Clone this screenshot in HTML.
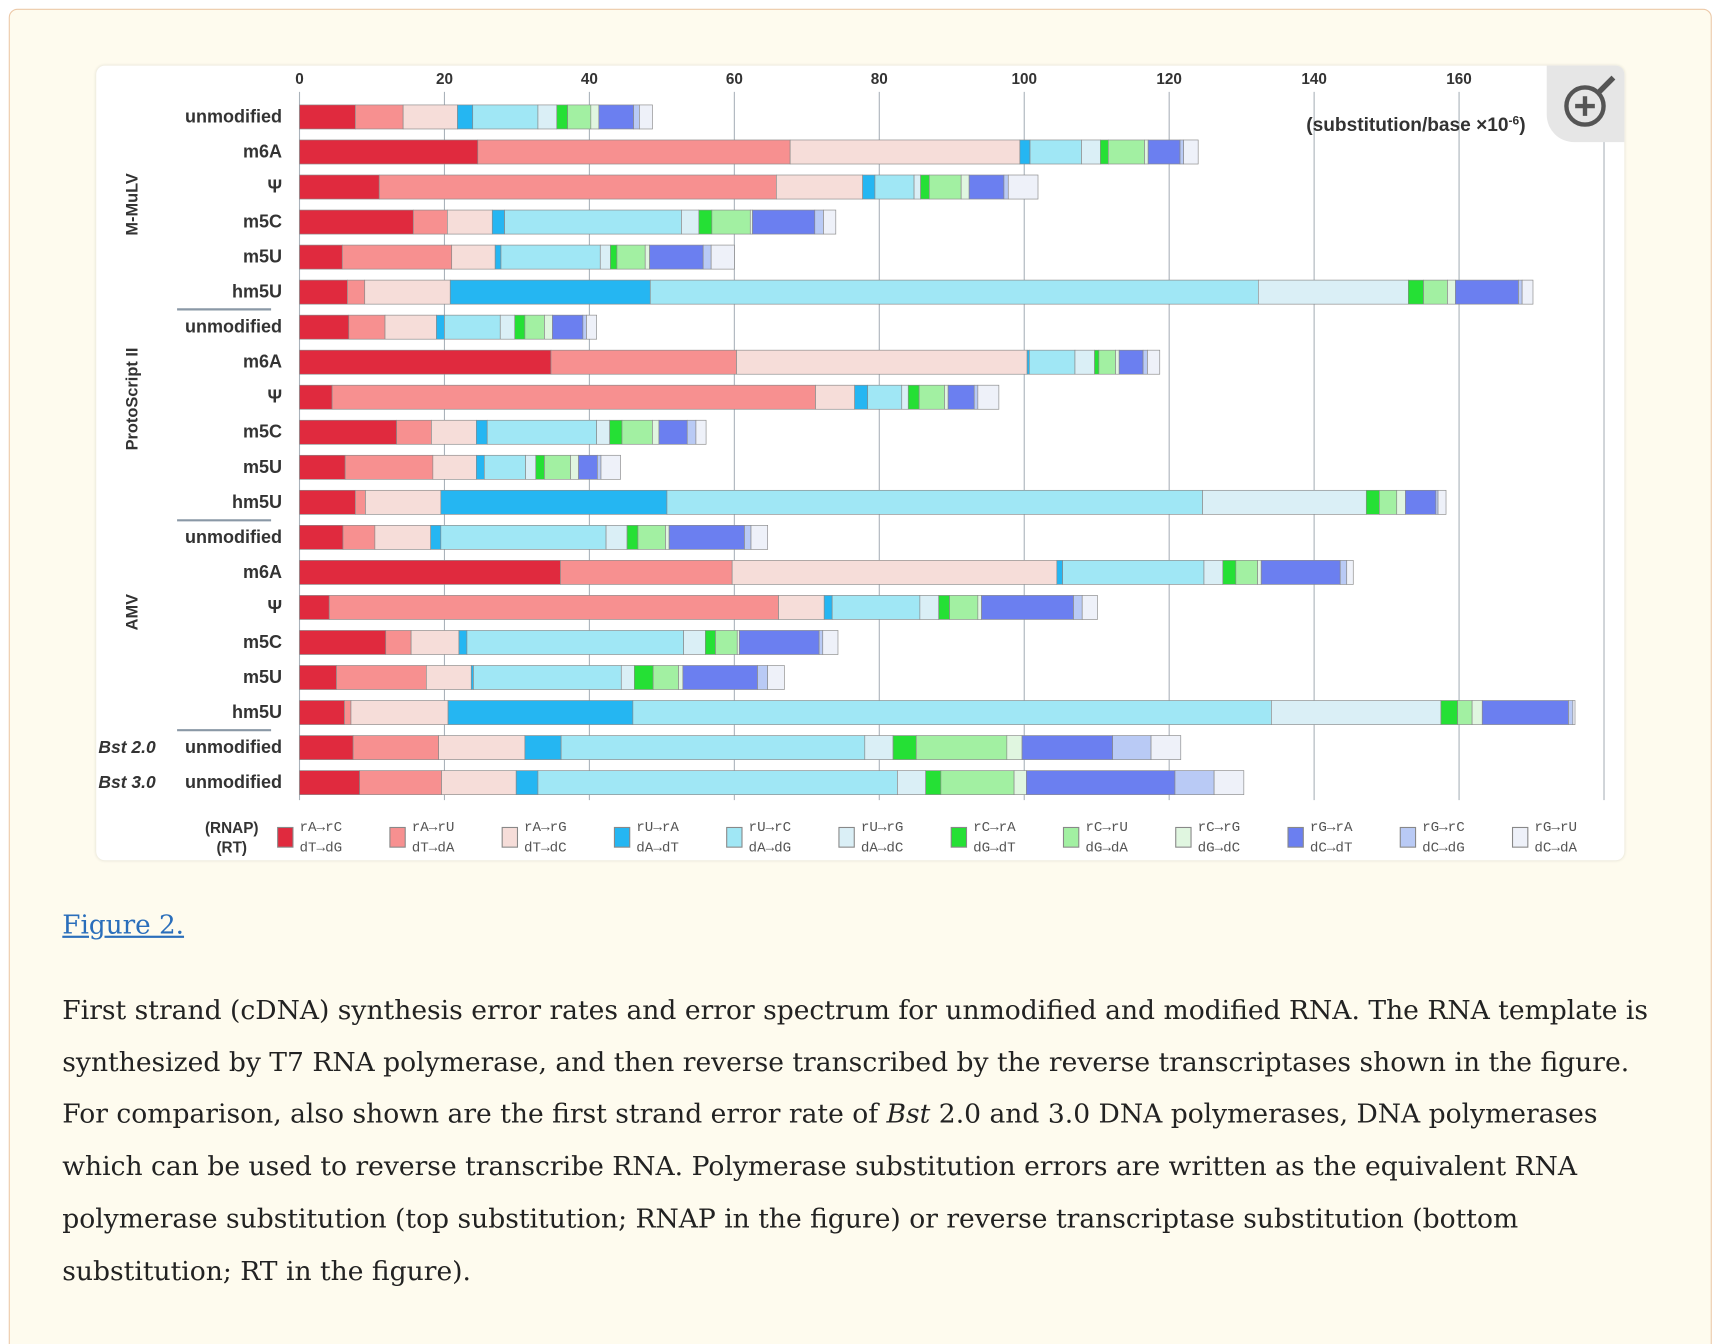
<!DOCTYPE html>
<html><head><meta charset="utf-8">
<style>
html,body{margin:0;padding:0;background:#fff;}
#page{width:1714px;height:1344px;overflow:hidden;position:relative;background:#fff;}
#inner{position:absolute;left:0;top:0;width:1568px;height:1230px;transform:scale(1.0931);transform-origin:0 0;}
#card{position:absolute;left:8px;top:8px;width:1556px;height:1240px;border:1px solid #ecc9a8;border-radius:8px;background:#fefbee;}
#panel{position:absolute;left:88px;top:60px;width:1398px;height:727px;background:#fff;border-radius:8px;box-shadow:0 0 3px rgba(0,0,0,0.12);}
#chart{position:absolute;left:0;top:0;}
#figlink{position:absolute;left:57px;top:832px;font-family:"DejaVu Serif","Liberation Serif",serif;font-size:24px;color:#2a6ebb;text-decoration:underline;}
#caption{position:absolute;left:57px;top:900px;font-family:"DejaVu Serif","Liberation Serif",serif;font-size:24.3px;line-height:47.7px;color:#222;white-space:nowrap;}
</style></head>
<body>
<div id="page">
<div id="inner">
<div id="card"></div>
<div id="panel"></div>
<svg id="chart" width="1568" height="800" font-family="Liberation Sans, sans-serif"></svg>
<a id="figlink">Figure 2.</a>
<div id="caption">First strand (cDNA) synthesis error rates and error spectrum for unmodified and modified RNA. The RNA template is<br>synthesized by T7 RNA polymerase, and then reverse transcribed by the reverse transcriptases shown in the figure.<br>For comparison, also shown are the first strand error rate of <i>Bst</i> 2.0 and 3.0 DNA polymerases, DNA polymerases<br>which can be used to reverse transcribe RNA. Polymerase substitution errors are written as the equivalent RNA<br>polymerase substitution (top substitution; RNAP in the figure) or reverse transcriptase substitution (bottom<br>substitution; RT in the figure).</div>
</div>
</div>
<script>
const rowLabels = ["unmodified","m6A","Ψ","m5C","m5U","hm5U","unmodified","m6A","Ψ","m5C","m5U","hm5U","unmodified","m6A","Ψ","m5C","m5U","hm5U","unmodified","unmodified"];
const mmlvUnmod = [7.7,6.6,7.5,2.1,9.0,2.6,1.5,3.2,1.1,4.8,0.8,1.8];
const mmlvM6A = [24.6,43.1,31.7,1.4,7.1,2.6,1.1,5.0,0.5,4.4,0.5,2.0];
const mmlvPsi = [11.0,54.8,11.9,1.7,5.4,0.9,1.2,4.4,1.1,4.8,0.6,4.1];
const mmlvM5C = [15.7,4.7,6.2,1.7,24.4,2.4,1.8,5.3,0.3,8.6,1.2,1.7];
const mmlvM5U = [5.9,15.1,6.0,0.8,13.7,1.4,0.9,3.9,0.6,7.4,1.1,3.2];
const mmlvHm5U = [6.6,2.4,11.8,27.6,83.9,20.7,2.1,3.3,1.1,8.7,0.5,1.5];
const psUnmod = [6.8,5.0,7.1,1.1,7.7,2.0,1.4,2.7,1.1,4.2,0.5,1.4];
const psM6A = [34.7,25.6,40.1,0.3,6.3,2.7,0.6,2.3,0.5,3.3,0.6,1.7];
const psPsi = [4.5,66.7,5.4,1.8,4.7,0.9,1.5,3.5,0.5,3.6,0.5,2.9];
const psM5C = [13.4,4.8,6.2,1.5,15.1,1.8,1.7,4.2,0.9,3.9,1.2,1.4];
const psM5U = [6.3,12.1,6.0,1.1,5.7,1.4,1.2,3.6,1.1,2.6,0.5,2.7];
const psHm5U = [7.7,1.4,10.4,31.2,73.9,22.6,1.8,2.4,1.2,4.2,0.3,1.1];
const amvUnmod = [6.0,4.4,7.7,1.4,22.8,2.9,1.5,3.8,0.5,10.4,0.9,2.3];
const amvM6A = [36.0,23.7,44.8,0.8,19.5,2.6,1.8,3.0,0.5,10.9,0.9,0.9];
const amvPsi = [4.1,62.0,6.3,1.1,12.1,2.6,1.5,3.9,0.5,12.7,1.2,2.1];
const amvM5C = [11.9,3.5,6.6,1.1,29.9,3.0,1.4,3.0,0.3,11.0,0.5,2.1];
const amvM5U = [5.1,12.4,6.2,0.3,20.4,1.8,2.6,3.5,0.6,10.3,1.4,2.3];
const amvHm5U = [6.2,0.9,13.4,25.5,88.1,23.4,2.3,2.0,1.4,11.9,0.6,0.3];
const bst20 = [7.4,11.8,11.9,5.0,41.9,3.9,3.2,12.5,2.1,12.5,5.3,4.1];
const bst30 = [8.3,11.3,10.3,3.0,49.6,3.9,2.1,10.1,1.7,20.5,5.4,4.1];
const rows = [mmlvUnmod,mmlvM6A,mmlvPsi,mmlvM5C,mmlvM5U,mmlvHm5U,psUnmod,psM6A,psPsi,psM5C,psM5U,psHm5U,amvUnmod,amvM6A,amvPsi,amvM5C,amvM5U,amvHm5U,bst20,bst30];
const ticks = [0,20,40,60,80,100,120,140,160,180];
const legendTop = ["rA→rC","rA→rU","rA→rG","rU→rA","rU→rC","rU→rG","rC→rA","rC→rU","rC→rG","rG→rA","rG→rC","rG→rU"];
const legendBottom = ["dT→dG","dT→dA","dT→dC","dA→dT","dA→dG","dA→dC","dG→dT","dG→dA","dG→dC","dC→dT","dC→dG","dC→dA"];
const colors = ["#e02a3e","#f79090","#f6ddd9","#25b6f2","#a0e7f5","#daeff6","#25e035","#a2f0a2","#e0f6e0","#6b7ff0","#b9caf5","#eef1f9"];

const NS="http://www.w3.org/2000/svg";
const svg=document.getElementById('chart');
const x0=274, pxPerUnit=6.63;
function xs(v){return x0+v*pxPerUnit;}
function ys(i){return 107+i*32.05;}
function mk(tag,attrs,parent){const e=document.createElementNS(NS,tag);for(const k in attrs)e.setAttribute(k,attrs[k]);(parent||svg).appendChild(e);return e;}

ticks.forEach(t=>{
  const g=mk('line',{x1:xs(t),x2:xs(t),y1:84,y2:732,stroke:'#aab2ba','stroke-width':1});
  
  
  const tx=mk('text',{x:xs(t),y:77,'text-anchor':'middle','font-size':14,'font-weight':'bold',fill:'#333'});
  tx.textContent=t;
  
  
});

rows.forEach((vals,i)=>{
  let acc=0;
  const y=ys(i);
  vals.forEach((v,j)=>{
    const r=mk('rect',{x:xs(acc),y:y-11,width:Math.max(0,xs(acc+v)-xs(acc)),height:22,fill:colors[j],stroke:'#8a8a8a','stroke-width':0.6});
    
    
    acc+=v;
  });
  const lb=mk('text',{x:258,y:y+5,'text-anchor':'end','font-size':16.5,'font-weight':'bold',fill:'#333'});
  lb.textContent=rowLabels[i];
  
  
});

[283,476,668].forEach(yy=>{
  const l=mk('line',{x1:162,x2:248,y1:yy,y2:yy,stroke:'#8a98a6','stroke-width':2});
  
  
});

[["M-MuLV",187],["ProtoScript II",365],["AMV",560]].forEach(([t,yy])=>{
  const g=mk('text',{x:0,y:0,transform:`translate(126,${yy}) rotate(-90)`,'text-anchor':'middle','font-size':15,'font-weight':'bold',fill:'#333'});
  g.textContent=t;
  
  
});
[["Bst 2.0",ys(18)],["Bst 3.0",ys(19)]].forEach(([t,yy])=>{
  const g=mk('text',{x:90,y:yy+5,'font-size':16,'font-weight':'bold','font-style':'italic',fill:'#333'});
  g.textContent=t;
  
  
});

const ul=mk('text',{x:1195,y:120,'font-size':17.5,'font-weight':'bold',fill:'#333'});
ul.innerHTML='(substitution/base ×10<tspan dy="-6" font-size="11">-6</tspan><tspan dy="6">)</tspan>';



const lr=mk('text',{x:212,y:762,'text-anchor':'middle','font-size':14,'font-weight':'bold',fill:'#333'});
lr.textContent='(RNAP)';


const lt=mk('text',{x:212,y:780,'text-anchor':'middle','font-size':14,'font-weight':'bold',fill:'#333'});
lt.textContent='(RT)';


legendTop.forEach((t,j)=>{
  const lx=254+j*102.7;
  const b=mk('rect',{x:lx,y:757,width:14,height:18,fill:colors[j],stroke:'#888','stroke-width':1});
  
  
  const a=mk('text',{x:lx+20,y:760,'font-size':13,'font-family':'Liberation Mono, monospace',fill:'#555'});
  a.textContent=t;
  
  
  const c=mk('text',{x:lx+20,y:779,'font-size':13,'font-family':'Liberation Mono, monospace',fill:'#555'});
  c.textContent=legendBottom[j];
  
  
});

const zb=mk('path',{d:'M1415 60 H1478 a8 8 0 0 1 8 8 V130 H1440 a25 25 0 0 1 -25 -25 Z',fill:'#e6e6e6'});


const zc=mk('circle',{cx:1450,cy:97,r:17,fill:'none',stroke:'#555','stroke-width':4});


const zh=mk('line',{x1:1462,y1:85,x2:1476,y2:71,stroke:'#555','stroke-width':5});


const zp=mk('path',{d:'M1441 97 H1459 M1450 88 V106',stroke:'#555','stroke-width':4});


</script>
</body></html>
